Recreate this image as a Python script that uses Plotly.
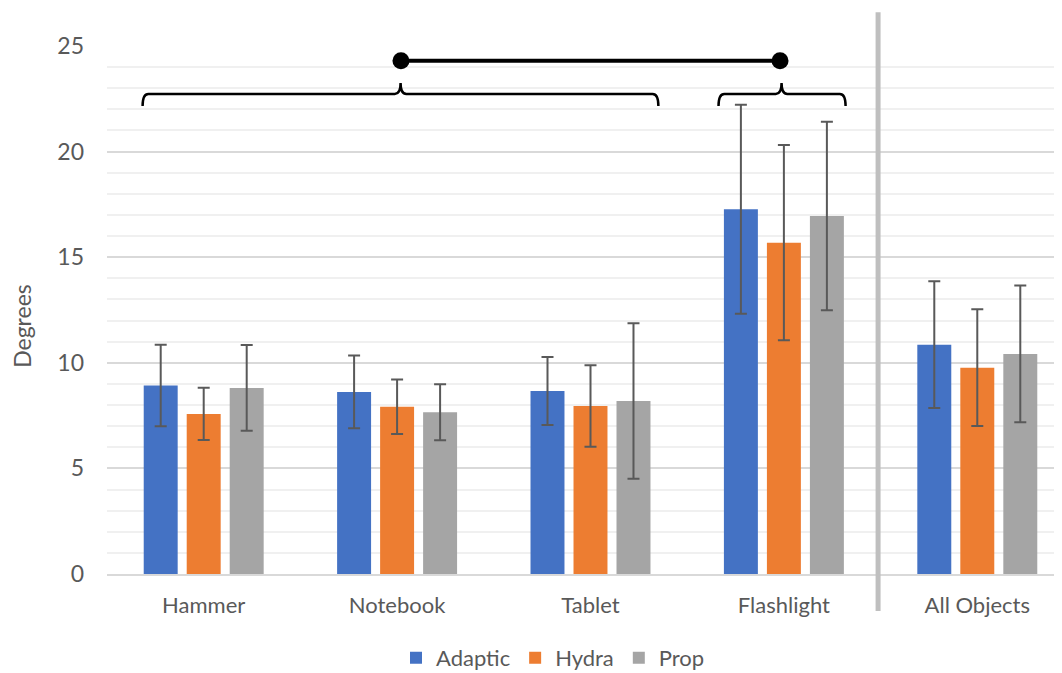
import plotly.graph_objects as go

categories = ["Hammer", "Notebook", "Tablet", "Flashlight", "All Objects"]
series_names = ["Adaptic", "Hydra", "Prop"]
adaptic = [8.93, 8.62, 8.67, 17.27, 10.86]
adaptic_err = [1.93, 1.72, 1.61, 4.95, 3.00]
hydra = [7.58, 7.92, 7.95, 15.69, 9.77]
hydra_err = [1.24, 1.29, 1.93, 4.62, 2.76]
prop = [8.81, 7.66, 8.19, 16.95, 10.42]
prop_err = [2.03, 1.33, 3.68, 4.46, 3.24]
colors = ["#4472C4", "#ED7D31", "#A5A5A5"]
y_ticks = [0, 5, 10, 15, 20, 25]

FONT = "Lato"
TXT = "#595959"

x_idx = list(range(len(categories)))

fig = go.Figure()
for name, vals, errs, col in zip(series_names, [adaptic, hydra, prop],
                                 [adaptic_err, hydra_err, prop_err], colors):
    fig.add_trace(go.Bar(
        name=name, x=x_idx, y=vals,
        marker=dict(color=col, line=dict(width=0)),
        error_y=dict(type="data", array=errs, visible=True,
                     color="#595959", thickness=2, width=6),
    ))

# significance connector (between the two bracket groups)
fig.add_trace(go.Scatter(
    x=[1.02, 2.98], y=[24.3, 24.3], mode="lines+markers",
    line=dict(color="black", width=4),
    marker=dict(color="black", size=17),
    showlegend=False, hoverinfo="skip",
))


def bracket(x1, x2, xm, y=22.73, yb=22.16, yt=23.25, rx=0.03):
    return (f"M {x1},{yb} Q {x1},{y} {x1+rx},{y} L {xm-rx},{y} "
            f"Q {xm},{y} {xm},{yt} Q {xm},{y} {xm+rx},{y} "
            f"L {x2-rx},{y} Q {x2},{y} {x2},{yb}")


shapes = [
    dict(type="path", xref="x", yref="y", path=bracket(-0.316, 2.351, 1.018),
         line=dict(color="black", width=2.5)),
    dict(type="path", xref="x", yref="y", path=bracket(2.662, 3.319, 2.988),
         line=dict(color="black", width=2.5)),
    dict(type="line", xref="x", yref="paper", x0=3.487, x1=3.487, y0=-0.07, y1=1.064,
         line=dict(color="#BFBFBF", width=5), layer="above"),
]

fig.update_layout(
    width=1062, height=673,
    margin=dict(l=99, r=8, t=38, b=107, autoexpand=False),
    paper_bgcolor="white", plot_bgcolor="white",
    barmode="group", bargap=0.333, bargroupgap=0.21,
    font=dict(family=FONT, size=22, color=TXT),
    shapes=shapes,
    annotations=[dict(text="Degrees", xref="paper", yref="paper", x=-0.089, y=0.47,
                      textangle=-90, showarrow=False, xanchor="center", yanchor="middle",
                      font=dict(size=23, color=TXT))],
    legend=dict(orientation="h", x=0.467, xanchor="center", y=-0.159, yanchor="middle",
                font=dict(size=22, color=TXT), itemwidth=30, traceorder="normal"),
    xaxis=dict(range=[-0.5, 4.438], tickvals=x_idx, ticktext=categories,
               showgrid=False, zeroline=False, showline=True, linecolor="#D9D9D9",
               linewidth=2, ticks="", ticklabelstandoff=11, automargin=False,
               tickfont=dict(size=22, color=TXT)),
    yaxis=dict(range=[0, 25], tickvals=y_ticks, showgrid=True, gridcolor="#D9D9D9",
               gridwidth=1.5, zeroline=False, showline=False, ticks="",
               ticklabelstandoff=22, automargin=False, tickfont=dict(size=23, color=TXT),
               minor=dict(dtick=1, showgrid=True, gridcolor="#F0F0F0", gridwidth=1.5)),
)

fig.write_html("out.html")
